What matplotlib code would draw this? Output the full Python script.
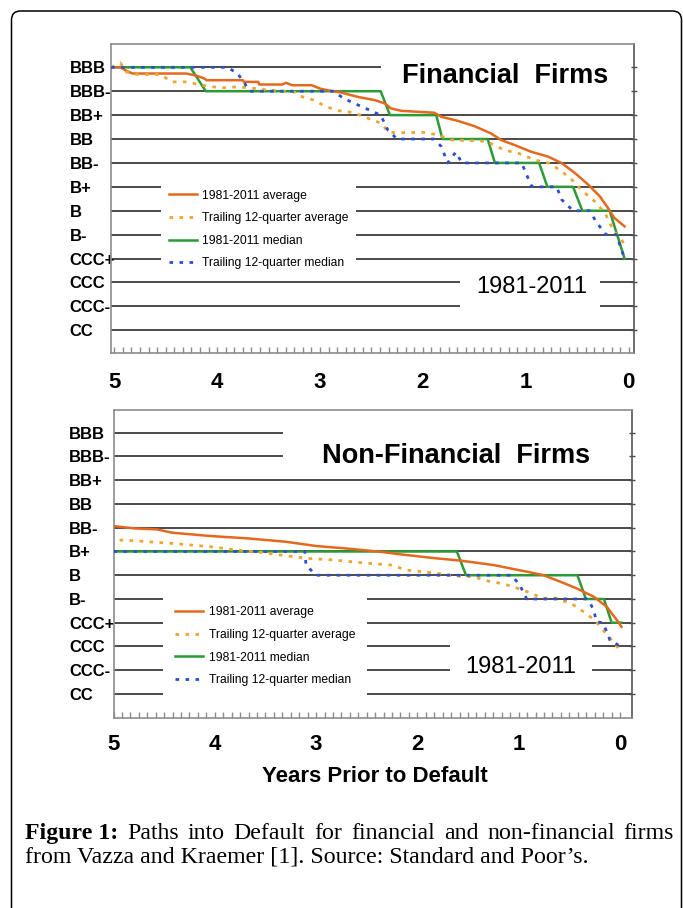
import matplotlib
matplotlib.use('Agg')
import matplotlib.pyplot as plt
from matplotlib import font_manager
from matplotlib.patches import Rectangle, FancyBboxPatch

# rating scale, top to bottom
ratings = ['BBB', 'BBB-', 'BB+', 'BB', 'BB-', 'B+', 'B', 'B-', 'CCC+', 'CCC', 'CCC-', 'CC']
year_ticks = [5, 4, 3, 2, 1, 0]
series_labels = ['1981-2011 average', 'Trailing 12-quarter average',
                 '1981-2011 median', 'Trailing 12-quarter median']

# ---- Financial firms (y = notches below BBB) ----
fin_avg_x = [5.03, 4.94, 4.88, 4.82, 4.55, 4.30, 4.20, 4.13, 4.10, 3.75, 3.74, 3.60, 3.59, 3.37,
             3.33, 3.27, 3.08, 3.00, 2.88, 2.80, 2.63, 2.47, 2.37, 2.31, 2.21, 1.89, 1.82, 1.66,
             1.50, 1.34, 1.24, 1.11, 0.95, 0.78, 0.65, 0.52, 0.39, 0.28, 0.20, 0.14, 0.04]
fin_avg_y = [0.0, 0.0, 0.15, 0.26, 0.26, 0.26, 0.35, 0.46, 0.54, 0.54, 0.61, 0.61, 0.72, 0.72,
             0.65, 0.75, 0.75, 0.89, 1.0, 1.05, 1.24, 1.37, 1.51, 1.72, 1.82, 1.90, 2.07, 2.24,
             2.46, 2.76, 3.04, 3.25, 3.53, 3.74, 4.01, 4.43, 4.92, 5.40, 5.89, 6.30, 6.65]

fin_tavg_x = [5.03, 4.94, 4.88, 4.78, 4.55, 4.44, 4.29, 4.15, 3.96, 3.81, 3.68, 3.51, 3.25, 3.19,
              3.06, 2.94, 2.81, 2.67, 2.53, 2.40, 2.34, 2.27, 2.00, 1.85, 1.72, 1.37, 1.34, 1.21,
              1.07, 0.91, 0.78, 0.67, 0.55, 0.46, 0.33, 0.23, 0.15, 0.06, 0.04]
fin_tavg_y = [0.0, -0.18, 0.2, 0.3, 0.3, 0.61, 0.61, 0.75, 0.86, 0.82, 0.86, 0.95, 1.03, 1.21,
              1.37, 1.65, 1.82, 1.90, 2.14, 2.35, 2.70, 2.74, 2.72, 2.83, 3.04, 3.10, 3.18, 3.46,
              3.60, 3.88, 4.00, 4.29, 4.71, 5.13, 5.61, 6.10, 6.80, 7.28, 7.45]

fin_med_x = [5.03, 4.26, 4.11, 2.41, 2.32, 1.87, 1.81, 1.37, 1.30, 0.87, 0.79, 0.54, 0.45, 0.185, 0.04]
fin_med_y = [0, 0, 1, 1, 2, 2, 3, 3, 4, 4, 5, 5, 6, 6, 8]

fin_tmed_x = [5.03, 3.90, 3.80, 3.68, 2.87, 2.77, 2.67, 2.41, 2.34, 2.25, 1.89, 1.82, 1.76, 1.68,
              1.62, 1.04, 0.95, 0.93, 0.70, 0.65, 0.54, 0.38, 0.31, 0.22, 0.12, 0.04]
fin_tmed_y = [0, 0, 0.26, 1, 1, 1.3, 1.5, 2.0, 2.63, 3, 3, 3.32, 4, 3.55,
              4, 4, 4.92, 5, 5, 5.54, 6, 6, 6.5, 7, 7, 8]

# ---- Non-financial firms ----
nf_avg_x = [5.0, 4.79, 4.57, 4.42, 4.04, 3.67, 3.30, 3.00, 2.71, 2.37, 2.19, 1.81, 1.58, 1.25,
            0.92, 0.76, 0.59, 0.43, 0.26, 0.13, 0.03, -0.015]
nf_avg_y = [3.93, 4.03, 4.07, 4.21, 4.35, 4.45, 4.59, 4.77, 4.87, 5.01, 5.11, 5.29, 5.38, 5.57,
            5.85, 5.99, 6.27, 6.55, 6.90, 7.33, 7.89, 8.17]

nf_tavg_x = [4.94, 4.79, 4.42, 4.04, 3.78, 3.52, 3.30, 3.08, 2.82, 2.56, 2.26, 2.11, 1.81, 1.59,
             1.45, 1.28, 1.15, 0.96, 0.76, 0.62, 0.46, 0.345, 0.25, 0.12, 0.0]
nf_tavg_y = [4.52, 4.55, 4.66, 4.80, 4.94, 5.05, 5.18, 5.29, 5.36, 5.47, 5.57, 5.78, 5.92, 6.04,
             6.06, 6.27, 6.36, 6.62, 6.97, 6.97, 7.25, 7.58, 7.89, 8.55, 9.15]

nf_med_x = [5.0, 1.61, 1.52, 0.42, 0.336, 0.158, 0.082, -0.015]
nf_med_y = [5, 5, 6, 6, 7, 7, 8, 8]

nf_tmed_x = [5.0, 3.11, 3.10, 3.00, 1.07, 0.99, 0.92, 0.33, 0.30, 0.26, 0.23, 0.17, 0.115, 0.10,
             0.017, -0.015]
nf_tmed_y = [5, 5, 5.57, 6, 6, 6.41, 7, 7, 7.12, 7.47, 7.96, 8.0, 8.52, 8.73, 8.94, 9.0]

caption_bold = 'Figure 1:'
caption_line1 = 'Paths into Default for financial and non-financial firms'
caption_line2 = 'from Vazza and Kraemer [1]. Source: Standard and Poor\u2019s.'

# ---- style ----
W, H = 683, 908
have = {f.name for f in font_manager.fontManager.ttflist}
if 'Liberation Sans Narrow' in have:
    NARROW, nscale = ['Liberation Sans Narrow', 'DejaVu Sans'], 1.0
else:
    NARROW, nscale = ['Liberation Sans', 'DejaVu Sans'], 0.85
SANS = ['Liberation Sans', 'DejaVu Sans']
SERIF = ['Liberation Serif', 'DejaVu Serif']

C_AVG = '#e4681d'
C_TAVG = '#f0a532'
C_MED = '#2b9b35'
C_TMED = '#2c4ed0'
DOTS = (0, (1.3, 2.3))
GRID = '#3b3b3b'
SPINE = '#8c8c8c'


def px_rect(l, t, r, b):
    return [l / W, 1 - b / H, (r - l) / W, (b - t) / H]


fig = plt.figure(figsize=(W / 100, H / 100), dpi=100)
fig.patch.set_facecolor('white')

# outer rounded frame (bottom edge is cut off in the original)
fig.add_artist(FancyBboxPatch((0.115, -0.5), 6.70, 9.47,
                              boxstyle='round,pad=0,rounding_size=0.09',
                              transform=fig.dpi_scale_trans, facecolor='none',
                              edgecolor='black', lw=1.1))


def draw_panel(ax, xlim, ylim, avg, tavg, med, tmed, title, title_xy, title_box,
               period_xy, period_box, leg_anchor, leg_pad, ylab_pad, xlab_pad):
    ax.set_xlim(*xlim)
    ax.set_ylim(*ylim)
    ax.hlines(range(len(ratings)), xlim[0], xlim[1], color=GRID, lw=1.3, zorder=1)
    for x0, x1, y0, y1 in (title_box, period_box):
        ax.add_patch(Rectangle((min(x0, x1), y0), abs(x1 - x0), y1 - y0,
                               facecolor='white', edgecolor='none', zorder=1.2))

    ax.plot(med[0], med[1], color=C_MED, lw=1.8, zorder=3, label=series_labels[2])
    ax.plot(avg[0], avg[1], color=C_AVG, lw=1.8, zorder=3.2, label=series_labels[0])
    ax.plot(tavg[0], tavg[1], color=C_TAVG, lw=2.0, ls=DOTS, zorder=3.4, label=series_labels[1])
    ax.plot(tmed[0], tmed[1], color=C_TMED, lw=2.0, ls=DOTS, zorder=3.6, label=series_labels[3])

    handles, labels = ax.get_legend_handles_labels()
    order = [labels.index(s) for s in series_labels]
    leg = ax.legend([handles[i] for i in order], [labels[i] for i in order],
                    loc='upper left', bbox_to_anchor=leg_anchor, borderaxespad=0,
                    frameon=True, fancybox=False, facecolor='white', edgecolor='none',
                    framealpha=1, handlelength=2.3, handletextpad=0.45,
                    labelspacing=0.87, borderpad=leg_pad,
                    prop={'family': NARROW, 'size': 10.3 * nscale})
    leg.set_zorder(5)

    ax.text(title_xy[0], title_xy[1], title, ha='center', va='baseline',
            family=SANS, fontweight='bold', fontsize=19.5, zorder=4)
    ax.text(period_xy[0], period_xy[1], '1981-2011', ha='center', va='baseline',
            family=SANS, fontsize=17, zorder=4)

    ax.set_yticks(range(len(ratings)), ratings)
    for lab in ax.get_yticklabels():
        lab.set_horizontalalignment('left')
        lab.set_family(NARROW)
        lab.set_fontweight('bold')
        lab.set_fontsize(12 if nscale < 1 else 13)
    ax.tick_params(axis='y', left=False, right=True, labelleft=True, direction='inout',
                   length=5, width=1, color='#4a4a4a', pad=ylab_pad)

    ax.set_xticks(year_ticks, [str(t) for t in year_ticks])
    ax.set_xticks([m / 12 for m in range(61)], minor=True)
    for lab in ax.get_xticklabels():
        lab.set_family(NARROW)
        lab.set_fontweight('bold')
        lab.set_fontsize(16 if nscale < 1 else 16.5)
    ax.tick_params(axis='x', which='both', direction='in', length=4, width=1,
                   color=SPINE, pad=xlab_pad)

    for side in ('top', 'left', 'bottom'):
        ax.spines[side].set_color(SPINE)
        ax.spines[side].set_linewidth(1.2)
    ax.spines['right'].set_color('#555555')
    ax.spines['right'].set_linewidth(1.2)


ax_fin = fig.add_axes(px_rect(110.5, 44, 633.5, 353))
draw_panel(ax_fin, (5.036, -0.047), (11.95, -0.975),
           (fin_avg_x, fin_avg_y), (fin_tavg_x, fin_tavg_y),
           (fin_med_x, fin_med_y), (fin_tmed_x, fin_tmed_y),
           'Financial  Firms', (1.204, 0.67), (2.41, -0.047, -0.55, 1.42),
           (0.94, 9.46), (1.64, 0.274, 8.5, 10.5),
           (0.0973, 0.552), 0.6, 27.1, 13.5)

ax_nf = fig.add_axes(px_rect(113.5, 410, 631.5, 718))
draw_panel(ax_nf, (5.0, -0.114), (12.01, -0.956),
           (nf_avg_x, nf_avg_y), (nf_tavg_x, nf_tavg_y),
           (nf_med_x, nf_med_y), (nf_tmed_x, nf_tmed_y),
           'Non-Financial  Firms', (1.62, 1.29), (3.33, -0.114, -0.5, 1.5),
           (0.98, 10.12), (1.68, 0.28, 8.5, 10.5),
           (0.096, 0.402), 1.0, 29.5, 11.5)

fig.text(375 / W, 1 - 781.7 / H, 'Years Prior to Default', ha='center', va='baseline',
         family=SANS, fontweight='bold', fontsize=16)

# caption, first line justified between the margins
renderer = fig.canvas.get_renderer()
x_left, x_right = 25, 674
words = [(caption_bold, 'bold')] + [(w, 'normal') for w in caption_line1.split()]
objs = [fig.text(0, 1 - 839 / H, w, family=SERIF, fontweight=wt, fontsize=17.2,
                 va='baseline') for w, wt in words]
widths = [o.get_window_extent(renderer).width for o in objs]
gap = (x_right - x_left - sum(widths)) / (len(objs) - 1)
x = x_left
for o, w in zip(objs, widths):
    o.set_x(x / W)
    x += w + gap
fig.text(x_left / W, 1 - 862 / H, caption_line2, family=SERIF, fontsize=17.2, va='baseline')

fig.savefig('out.png', dpi=100)
